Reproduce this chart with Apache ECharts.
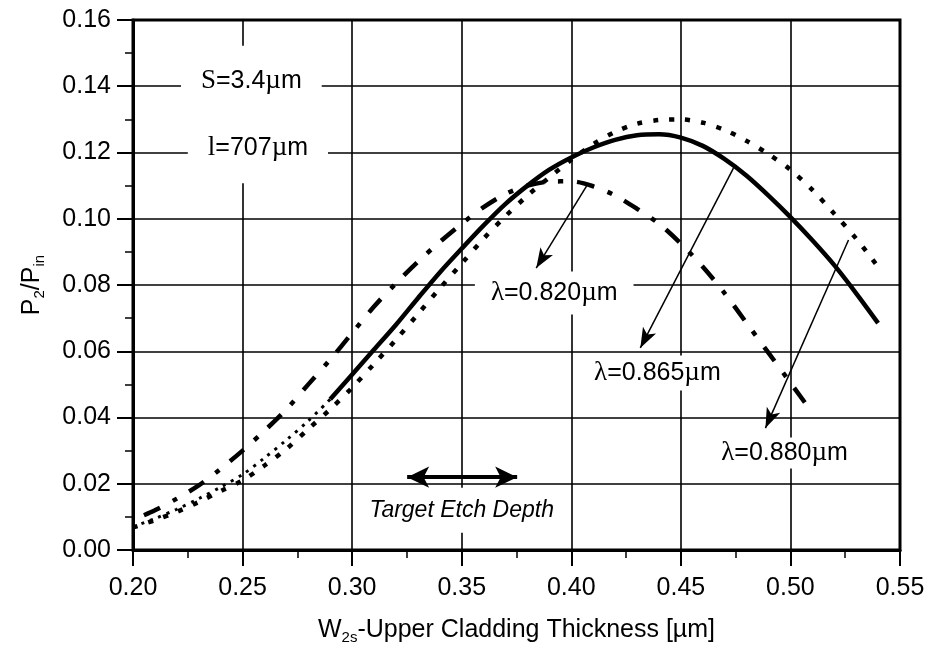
<!DOCTYPE html>
<html>
<head>
<meta charset="utf-8">
<script src="https://cdn.jsdelivr.net/npm/echarts@6/dist/echarts.min.js"></script>
<style>
html, body { margin: 0; padding: 0; background: #fff; }
#chart { width: 930px; height: 654px; }
</style>
</head>
<body>
<div id="chart"></div>
<script>
// Coupled power P2/Pin against upper cladding thickness W2s, for three wavelengths.

// lambda = 0.820 um (dash-dot)
const curve820 = [
  [0.205,0.0105],[0.21,0.0120],[0.22,0.0155],[0.23,0.0195],[0.24,0.0245],[0.25,0.0300],
  [0.26,0.0360],[0.27,0.0425],[0.28,0.0500],[0.29,0.0575],[0.30,0.0655],[0.31,0.0735],
  [0.32,0.0805],[0.33,0.0870],[0.34,0.0930],[0.35,0.0985],[0.36,0.1035],[0.37,0.1075],
  [0.38,0.1100],[0.39,0.1112],[0.40,0.1113],[0.41,0.1098],[0.42,0.1070],[0.43,0.1030],
  [0.44,0.0985],[0.45,0.0925],[0.46,0.0855],[0.47,0.0775],[0.48,0.0685],[0.49,0.0595],
  [0.50,0.0505],[0.51,0.0414]
];

// lambda = 0.865 um (solid, fine-dotted at thin cladding)
const curve865 = [
  [0.20,0.0070],[0.21,0.0095],[0.22,0.0123],[0.23,0.0155],[0.24,0.0190],[0.25,0.0228],
  [0.26,0.0278],[0.27,0.0332],[0.28,0.0390],[0.29,0.0455],[0.30,0.0530],[0.31,0.0605],
  [0.32,0.0680],[0.33,0.0760],[0.34,0.0838],[0.35,0.0910],[0.36,0.0980],[0.37,0.1045],
  [0.38,0.1100],[0.39,0.1148],[0.40,0.1185],[0.41,0.1215],[0.42,0.1238],[0.43,0.1252],
  [0.44,0.1255],[0.45,0.1245],[0.46,0.1220],[0.47,0.1180],[0.48,0.1130],[0.49,0.1070],
  [0.50,0.1005],[0.51,0.0935],[0.52,0.0860],[0.53,0.0775],[0.54,0.0685]
];
const solidFrom865 = 0.29;

// lambda = 0.880 um (dotted)
const curve880 = [
  [0.20,0.0068],[0.21,0.0090],[0.22,0.0115],[0.23,0.0145],[0.24,0.0178],[0.25,0.0210],
  [0.26,0.0255],[0.27,0.0305],[0.28,0.0365],[0.29,0.0425],[0.30,0.0490],[0.31,0.0562],
  [0.32,0.0635],[0.33,0.0712],[0.34,0.0790],[0.35,0.0865],[0.36,0.0940],[0.37,0.1008],
  [0.38,0.1070],[0.39,0.1125],[0.40,0.1178],[0.41,0.1225],[0.42,0.1262],[0.43,0.1287],
  [0.44,0.1298],[0.45,0.1300],[0.46,0.1290],[0.47,0.1268],[0.48,0.1235],[0.49,0.1195],
  [0.50,0.1148],[0.51,0.1087],[0.52,0.1015],[0.53,0.0940],[0.54,0.0855]
];

// axis ranges and tick steps
const xRange = [0.20, 0.55], xStep = 0.05;
const yRange = [0.00, 0.16], yStep = 0.02;

// annotation anchors (data coordinates) and texts
const notePoints = [
  [0.254, 0.1415], [0.257, 0.1214], [0.3922, 0.0776],
  [0.4393, 0.0534], [0.4973, 0.0293], [0.350, 0.0120]
];
const noteTexts = [
  '{g|S}=3.4{g|\u00b5}m',
  '{g|l}=707{g|\u00b5}m',
  '{g|\u03bb}=0.820{g|\u00b5}m',
  '{g|\u03bb}=0.865{g|\u00b5}m',
  '{g|\u03bb}=0.880{g|\u00b5}m',
  '{i|Target Etch Depth}'
];
const arrow820 = [[0.4073, 0.1102], [0.3840, 0.0851]];
const arrow865 = [[0.4740, 0.1153], [0.4315, 0.0610]];
const arrow880 = [[0.5265, 0.0936], [0.4886, 0.0368]];
const etchRange = [[0.3251, 0.0220], [0.3753, 0.0220]];

const SANS = 'Liberation Sans, Arial, Helvetica, sans-serif';
const SERIF = 'Liberation Serif, Times New Roman, serif';
const notePadding = [[22, 20], [22, 20], [8, 16], [4, 6], [2, 4], [11, 10]];

const chart = echarts.init(document.getElementById('chart'), null, { renderer: 'canvas' });

const tickFmt = v => v.toFixed(2);

const thinArrow = (pair) => [
  { coord: pair[0], symbol: 'none' },
  { coord: pair[1], symbol: 'arrow', symbolSize: [11, 20] }
];

const option = {
  animation: false,
  backgroundColor: '#fff',
  grid: {
    left: 133, right: 30, top: 20, bottom: 104,
    show: true, borderColor: '#000', borderWidth: 3, backgroundColor: 'transparent'
  },
  xAxis: {
    type: 'value',
    min: xRange[0], max: xRange[1], interval: xStep,
    name: '{m|W}{s|2s}{m|-Upper Cladding Thickness [\u00b5m]}',
    nameLocation: 'middle',
    nameGap: 66,
    nameTextStyle: {
      rich: {
        m: { fontFamily: SANS, fontSize: 25, color: '#000' },
        s: { fontFamily: SANS, fontSize: 15, color: '#000', padding: [14, 0, 0, 0] }
      }
    },
    axisLine: { show: true, lineStyle: { color: '#000', width: 3 } },
    axisTick: { show: true, inside: false, length: 16, lineStyle: { color: '#000', width: 2 } },
    minorTick: { show: true, splitNumber: 2, length: 8, lineStyle: { color: '#000', width: 1.5 } },
    splitLine: { show: true, lineStyle: { color: '#000', width: 1.6 } },
    axisLabel: { formatter: tickFmt, fontFamily: SANS, fontSize: 25, color: '#000', margin: 26 }
  },
  yAxis: {
    type: 'value',
    min: yRange[0], max: yRange[1], interval: yStep,
    name: '{m|P}{s|2}{m|/P}{s|in}',
    nameLocation: 'middle',
    nameGap: 86,
    nameTextStyle: {
      rich: {
        m: { fontFamily: SANS, fontSize: 25, color: '#000' },
        s: { fontFamily: SANS, fontSize: 15, color: '#000', padding: [14, 0, 0, 0] }
      }
    },
    axisLine: { show: true, lineStyle: { color: '#000', width: 3 } },
    axisTick: { show: true, inside: false, length: 16, lineStyle: { color: '#000', width: 2 } },
    minorTick: { show: true, splitNumber: 2, length: 8, lineStyle: { color: '#000', width: 1.5 } },
    splitLine: { show: true, lineStyle: { color: '#000', width: 1.6 } },
    axisLabel: { formatter: tickFmt, fontFamily: SANS, fontSize: 25, color: '#000', margin: 22 }
  },
  series: [
    {
      name: '0.820',
      type: 'line',
      data: curve820,
      smooth: 0.3,
      showSymbol: false,
      lineStyle: { color: '#000', width: 4.5, type: [18, 14, 5, 14], cap: 'butt' },
      z: 3
    },
    {
      name: '0.865 thin',
      type: 'line',
      data: curve865.filter(p => p[0] <= solidFrom865),
      smooth: 0.3,
      showSymbol: false,
      lineStyle: { color: '#000', width: 3, type: [3, 6], cap: 'butt' },
      z: 3
    },
    {
      name: '0.865',
      type: 'line',
      data: curve865.filter(p => p[0] >= solidFrom865),
      smooth: 0.3,
      showSymbol: false,
      lineStyle: { color: '#000', width: 4.5, type: 'solid' },
      z: 3
    },
    {
      name: '0.880',
      type: 'line',
      data: curve880,
      smooth: 0.3,
      showSymbol: false,
      lineStyle: { color: '#000', width: 4.5, type: [5, 11], cap: 'butt' },
      z: 3
    },
    {
      name: 'notes',
      type: 'scatter',
      symbolSize: 0,
      silent: true,
      z: 4,
      itemStyle: { opacity: 1, color: '#000' },
      emphasis: { disabled: true },
      data: notePoints.map((p, i) => ({
        value: p,
        label: {
          show: true,
          position: 'inside',
          formatter: noteTexts[i],
          backgroundColor: '#fff',
          padding: notePadding[i],
          opacity: 1,
          fontFamily: SANS,
          fontSize: 25,
          color: '#000',
          rich: {
            g: { fontFamily: SERIF, fontSize: 27, color: '#000' },
            i: { fontFamily: SANS, fontSize: 23, fontStyle: 'italic', color: '#000' }
          }
        }
      })),
      markLine: {
        silent: true,
        symbol: ['none', 'arrow'],
        label: { show: false },
        emphasis: { disabled: true },
        lineStyle: { color: '#000', width: 1.5, type: 'solid', opacity: 1 },
        data: [
          thinArrow(arrow820),
          thinArrow(arrow865),
          thinArrow(arrow880),
          [
            { coord: etchRange[0], symbol: 'arrow', symbolSize: [16, 22] },
            { coord: etchRange[1], symbol: 'arrow', symbolSize: [16, 22],
              lineStyle: { width: 4 } }
          ]
        ]
      }
    }
  ]
};

chart.setOption(option);
</script>
</body>
</html>
